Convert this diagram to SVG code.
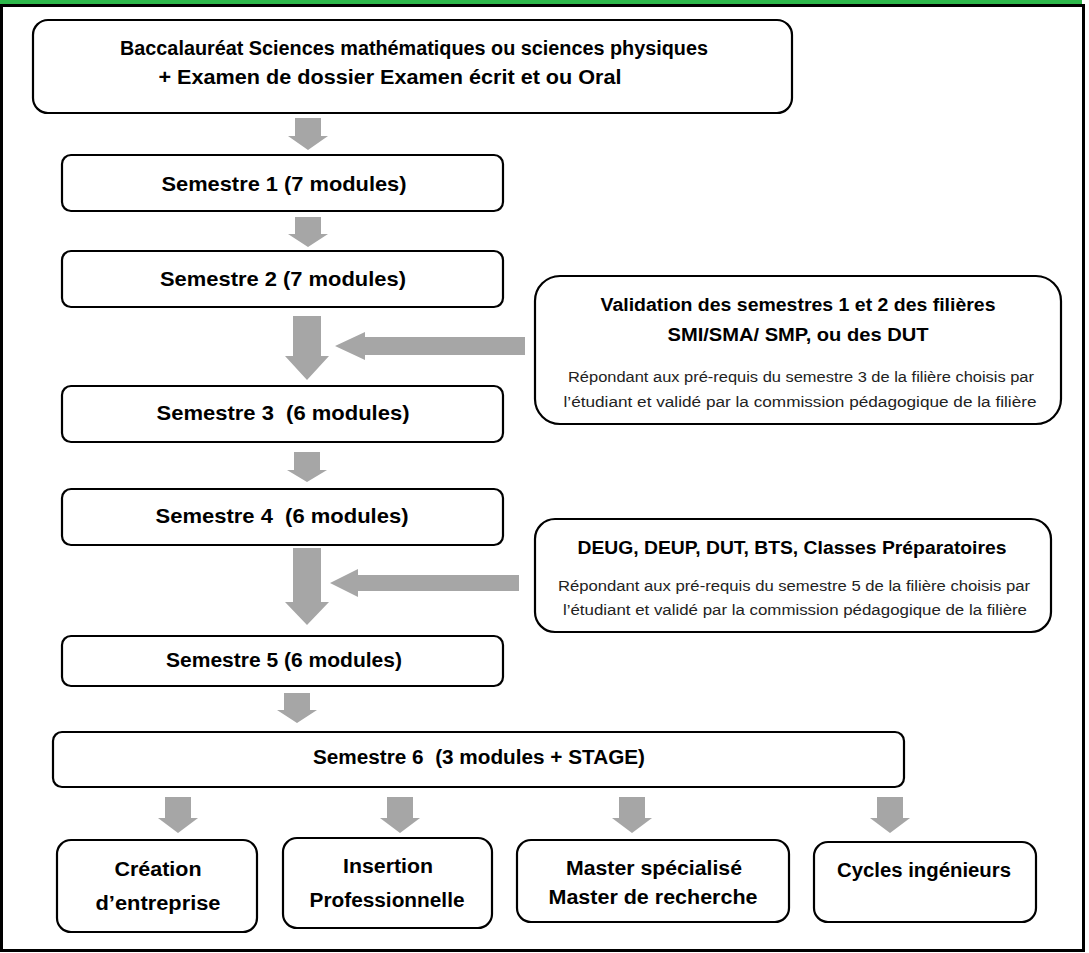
<svg xmlns="http://www.w3.org/2000/svg" width="1089" height="953" viewBox="0 0 1089 953">
<style>
.box{fill:#fff;stroke:#000;stroke-width:2.2}
.t{font-family:"Liberation Sans",Arial,sans-serif;font-weight:bold;fill:#000;text-anchor:middle}
.s{font-family:"Liberation Sans",Arial,sans-serif;fill:#222;text-anchor:middle;font-size:14px}
.arr{fill:#a6a6a6}
</style>
<rect x="0" y="0" width="1089" height="953" fill="#fff"/>
<rect x="0" y="0" width="1082" height="4" fill="#2db84b"/>
<rect x="1.5" y="5.5" width="1082" height="945" fill="none" stroke="#000" stroke-width="3"/>

<g id="connectors">
<polygon class="arr" points="295,118 321,118 321,136 328,136 308,150 288,136 295,136"/>
<polygon class="arr" points="295,217 321,217 321,234 328,234 308,247 288,234 295,234"/>
<polygon class="arr" points="293,316 321,316 321,356 329,356 307,380 285,356 293,356"/>
<polygon class="arr" points="294,452 320,452 320,470 327,470 307,482 287,470 294,470"/>
<polygon class="arr" points="293,548 321,548 321,602 329,602 307,625 285,602 293,602"/>
<polygon class="arr" points="284,693 310,693 310,710 317,710 297,723 277,710 284,710"/>
<polygon class="arr" points="165,797 191,797 191,818 198,818 178,833 158,818 165,818"/>
<polygon class="arr" points="387,797 413,797 413,818 420,818 400,833 380,818 387,818"/>
<polygon class="arr" points="619,797 645,797 645,818 652,818 632,833 612,818 619,818"/>
<polygon class="arr" points="877,797 903,797 903,818 910,818 890,833 870,818 877,818"/>
<polygon class="arr" points="525,337 365,337 365,332 335,346 365,360 365,355 525,355"/>
<polygon class="arr" points="519,575 358,575 358,569 330,583 358,597 358,591 519,591"/>
</g>

<g id="bac">
<rect class="box" x="33" y="20" width="759" height="93" rx="15"/>
<text class="t" x="414" y="55" font-size="20" textLength="588" lengthAdjust="spacingAndGlyphs">Baccalauréat Sciences mathématiques ou sciences physiques</text>
<text class="t" x="390" y="84" font-size="20" textLength="463" lengthAdjust="spacingAndGlyphs">+ Examen de dossier Examen écrit et ou Oral</text>
</g>

<g id="s1">
<rect class="box" x="62" y="155" width="441" height="56" rx="9"/>
<text class="t" x="284" y="191" font-size="21" textLength="245" lengthAdjust="spacingAndGlyphs">Semestre 1 (7 modules)</text>
</g>
<g id="s2">
<rect class="box" x="62" y="251" width="441" height="56" rx="9"/>
<text class="t" x="283" y="286" font-size="21" textLength="246" lengthAdjust="spacingAndGlyphs">Semestre 2 (7 modules)</text>
</g>
<g id="s3">
<rect class="box" x="62" y="386" width="441" height="56" rx="9"/>
<text class="t" x="283" y="420" font-size="21" textLength="253" lengthAdjust="spacingAndGlyphs">Semestre 3&#160; (6 modules)</text>
</g>
<g id="s4">
<rect class="box" x="62" y="489" width="441" height="56" rx="9"/>
<text class="t" x="282" y="523" font-size="21" textLength="253" lengthAdjust="spacingAndGlyphs">Semestre 4&#160; (6 modules)</text>
</g>
<g id="s5">
<rect class="box" x="62" y="636" width="441" height="50" rx="9"/>
<text class="t" x="284" y="667" font-size="20" textLength="236" lengthAdjust="spacingAndGlyphs">Semestre 5 (6 modules)</text>
</g>
<g id="s6">
<rect class="box" x="53" y="732" width="851" height="55" rx="9"/>
<text class="t" x="479" y="764" font-size="20" textLength="332" lengthAdjust="spacingAndGlyphs">Semestre 6&#160; (3 modules + STAGE)</text>
</g>

<g id="validation">
<rect class="box" x="535" y="276" width="526" height="148" rx="25"/>
<text class="t" x="798" y="311" font-size="18" textLength="395" lengthAdjust="spacingAndGlyphs">Validation des semestres 1 et 2 des filières</text>
<text class="t" x="798" y="341" font-size="18" textLength="261" lengthAdjust="spacingAndGlyphs">SMI/SMA/ SMP, ou des DUT</text>
<text class="s" x="801" y="382" textLength="466" lengthAdjust="spacingAndGlyphs">Répondant aux pré-requis du semestre 3 de la filière choisis par</text>
<text class="s" x="800" y="407" textLength="473" lengthAdjust="spacingAndGlyphs">l’étudiant et validé par la commission pédagogique de la filière</text>
</g>

<g id="deug">
<rect class="box" x="535" y="519" width="516" height="113" rx="20"/>
<text class="t" x="792" y="554" font-size="18" textLength="429" lengthAdjust="spacingAndGlyphs">DEUG, DEUP, DUT, BTS, Classes Préparatoires</text>
<text class="s" x="794" y="591" textLength="472" lengthAdjust="spacingAndGlyphs">Répondant aux pré-requis du semestre 5 de la filière choisis par</text>
<text class="s" x="795" y="615" textLength="464" lengthAdjust="spacingAndGlyphs">l’étudiant et validé par la commission pédagogique de la filière</text>
</g>

<g id="creation">
<rect class="box" x="57" y="840" width="200" height="92" rx="14"/>
<text class="t" x="158" y="876" font-size="20" textLength="87" lengthAdjust="spacingAndGlyphs">Création</text>
<text class="t" x="158" y="910" font-size="20" textLength="125" lengthAdjust="spacingAndGlyphs">d’entreprise</text>
</g>
<g id="insertion">
<rect class="box" x="283" y="838" width="209" height="90" rx="14"/>
<text class="t" x="388" y="873" font-size="20" textLength="90" lengthAdjust="spacingAndGlyphs">Insertion</text>
<text class="t" x="387" y="907" font-size="20" textLength="155" lengthAdjust="spacingAndGlyphs">Professionnelle</text>
</g>
<g id="master">
<rect class="box" x="517" y="840" width="272" height="82" rx="14"/>
<text class="t" x="654" y="875" font-size="20" textLength="176" lengthAdjust="spacingAndGlyphs">Master spécialisé</text>
<text class="t" x="653" y="904" font-size="20" textLength="209" lengthAdjust="spacingAndGlyphs">Master de recherche</text>
</g>
<g id="cycles">
<rect class="box" x="814" y="842" width="222" height="80" rx="14"/>
<text class="t" x="924" y="877" font-size="20" textLength="174" lengthAdjust="spacingAndGlyphs">Cycles ingénieurs</text>
</g>
</svg>
